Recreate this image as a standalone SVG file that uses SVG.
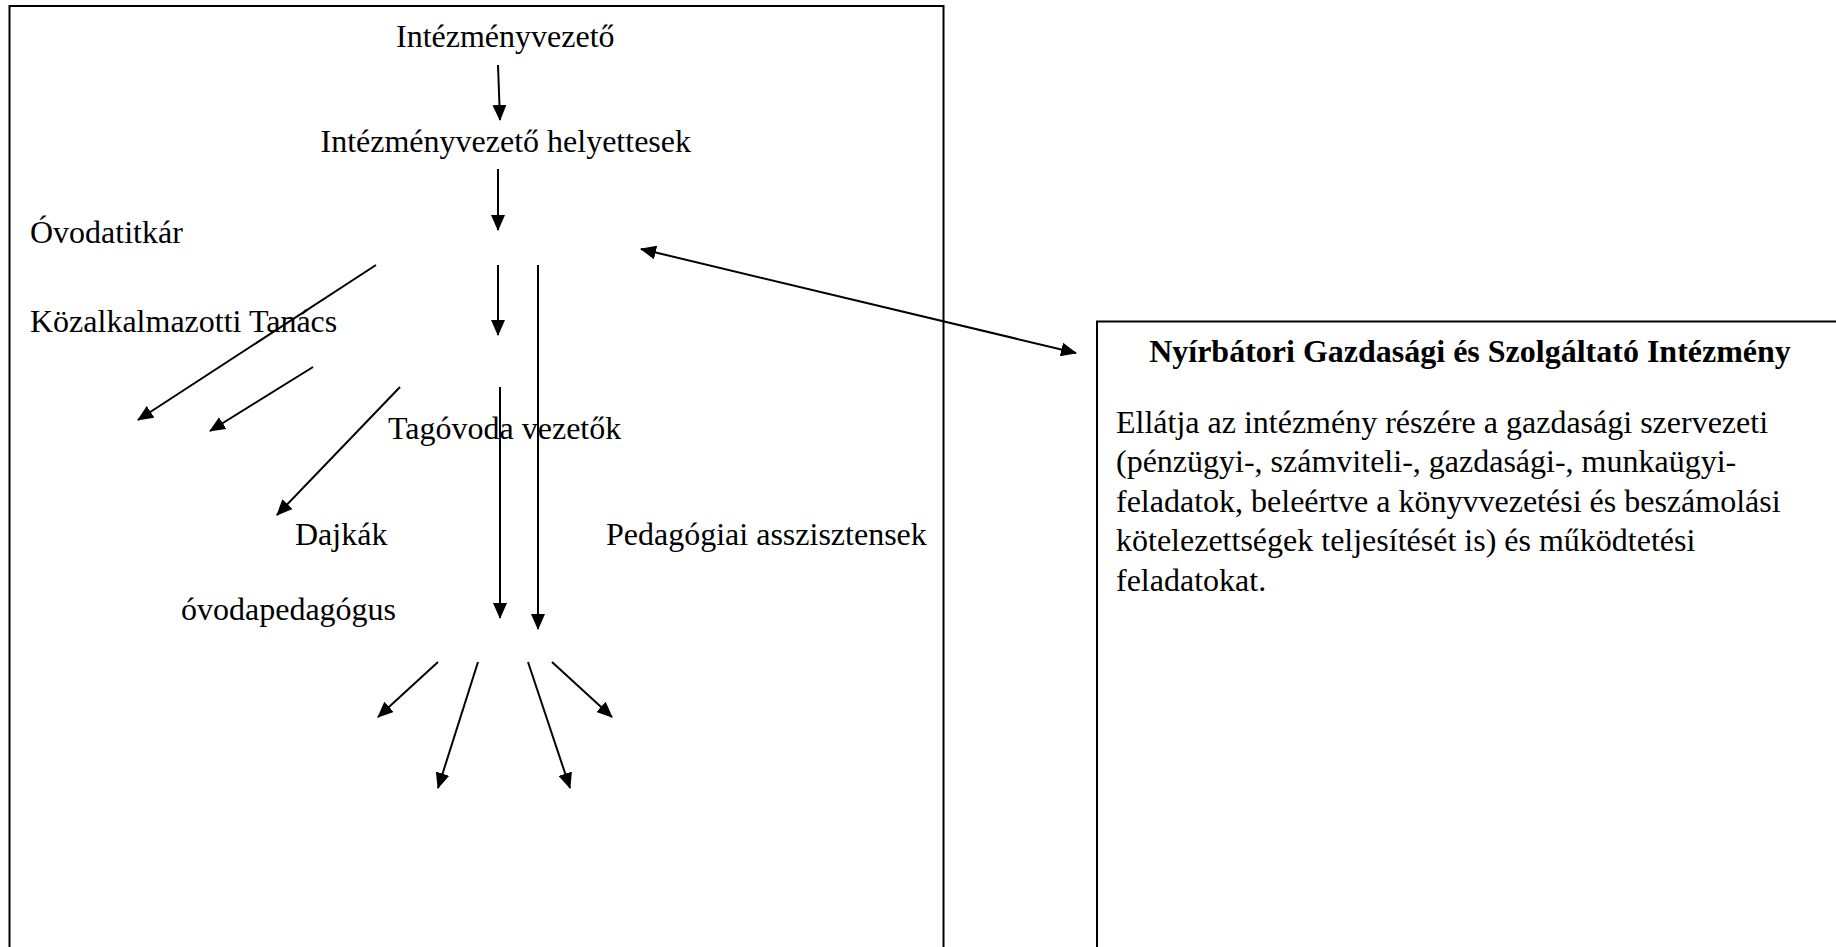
<svg xmlns="http://www.w3.org/2000/svg" width="1836" height="947" viewBox="0 0 1836 947">
<style>
.t{font-family:"Liberation Serif","Times New Roman",serif;font-size:32px;fill:#000}
.b{font-weight:bold}
.box{fill:none;stroke:#000;stroke-width:2}
.c line{stroke:#000;stroke-width:2;fill:none}
.a{marker-end:url(#ah)}
</style>
<defs>
<marker id="ah" markerUnits="userSpaceOnUse" markerWidth="16" markerHeight="14" refX="15" refY="7" orient="auto-start-reverse" viewBox="0 0 16 14">
<path d="M0,0 L16,7 L0,14 z" fill="#000"/>
</marker>
</defs>
<rect width="1836" height="947" fill="#fff"/>
<g id="org-box">
<path class="box" d="M9.5,960 L9.5,6 L943.5,6 L943.5,960"/>
</g>
<g id="gszi-box">
<path class="box" d="M1097,960 L1097,321.5 L1845,321.5"/>
<text class="t b" x="1470" y="362" text-anchor="middle">Nyírbátori Gazdasági és Szolgáltató Intézmény</text>
<text class="t" x="1116" y="432.5">Ellátja az intézmény részére a gazdasági szervezeti</text>
<text class="t" x="1116" y="472">(pénzügyi-, számviteli-, gazdasági-, munkaügyi-</text>
<text class="t" x="1116" y="511.5">feladatok, beleértve a könyvvezetési és beszámolási</text>
<text class="t" x="1116" y="551">kötelezettségek teljesítését is) és működtetési</text>
<text class="t" x="1116" y="590.5">feladatokat.</text>
</g>
<g id="n-intezmenyvezeto"><text class="t" x="396" y="47">Intézményvezető</text></g>
<g id="n-helyettesek"><text class="t" x="320.5" y="152">Intézményvezető helyettesek</text></g>
<g id="n-ovodatitkar"><text class="t" x="30" y="243">Óvodatitkár</text></g>
<g id="n-kozalkalmazotti"><text class="t" x="30" y="332">Közalkalmazotti Tanács</text></g>
<g id="n-tagovoda"><text class="t" x="388" y="439">Tagóvoda vezetők</text></g>
<g id="n-dajkak"><text class="t" x="295" y="545">Dajkák</text></g>
<g id="n-pedasszisztens"><text class="t" x="606" y="545">Pedagógiai asszisztensek</text></g>
<g id="n-ovodapedagogus"><text class="t" x="181" y="620">óvodapedagógus</text></g>
<g id="connectors" class="c">
<line class="a" x1="498" y1="65" x2="500" y2="120"/>
<line class="a" x1="498" y1="169" x2="498" y2="230"/>
<line class="a" x1="498" y1="265" x2="498" y2="335"/>
<line class="a" x1="538" y1="265" x2="538" y2="629"/>
<line class="a" x1="500" y1="387" x2="500" y2="618"/>
<line class="a" x1="376" y1="265" x2="138" y2="420"/>
<line class="a" x1="313" y1="367" x2="210" y2="431"/>
<line class="a" x1="400" y1="387" x2="277" y2="515"/>
<line class="a" x1="438" y1="662" x2="378" y2="717"/>
<line class="a" x1="478" y1="662" x2="438" y2="788"/>
<line class="a" x1="528" y1="662" x2="570" y2="788"/>
<line class="a" x1="552" y1="662" x2="612" y2="717"/>
<line x1="641" y1="249" x2="1076" y2="353" marker-start="url(#ah)" marker-end="url(#ah)"/>
</g>
</svg>
